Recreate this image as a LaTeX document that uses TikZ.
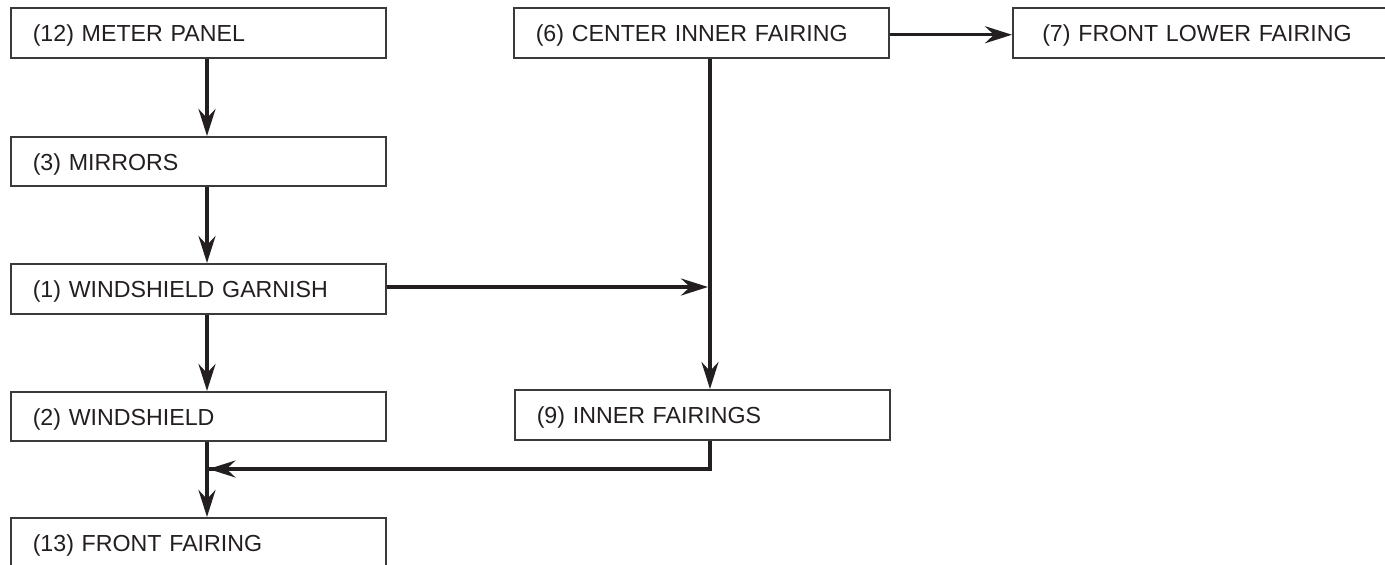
\documentclass[tikz,border=0pt]{standalone}
\usepackage{fontspec}
\setmainfont{Liberation Sans}
\usetikzlibrary{arrows.meta,calc}
\definecolor{ink}{HTML}{231F20}
\definecolor{frame}{HTML}{3A3A3A}
\tikzset{
  stepbox/.style={draw=frame, line width=1.5pt, rectangle, anchor=north west,
    minimum width=375pt, minimum height=50pt, inner xsep=22pt, inner ysep=0pt,
    text width=331pt, align=left, text height=18pt, text depth=0pt,
    font=\fontsize{23.2pt}{25pt}\selectfont, text=ink},
  arr/.style={draw=ink, line width=3.2pt,
    -{Stealth[length=27pt,width=17pt,inset=9pt]}},
  link/.style={draw=ink, line width=3.2pt},
}
\begin{document}
\begin{tikzpicture}[x=1pt,y=-1pt]
\useasboundingbox (0,0) rectangle (1385,565);
\clip (0,0) rectangle (1385,565);
\fill[white] (0,0) rectangle (1385,565);
% left column
\node[stepbox] (m12) at (10,7) {(12) METER PANEL};
\node[stepbox, minimum height=49pt] (m3) at (10,136) {(3) MIRRORS};
\node[stepbox] (m1) at (10,263) {(1) WINDSHIELD GARNISH};
\node[stepbox, minimum height=49pt] (m2) at (10,391) {(2) WINDSHIELD};
\node[stepbox, minimum height=60pt, text height=8pt] (m13) at (10,517) {(13) FRONT FAIRING};
% middle / right
\node[stepbox] (m6) at (513,7) {(6) CENTER INNER FAIRING};
\node[stepbox, minimum width=390pt] (m7) at (1012,7) {(7) FRONT LOWER FAIRING};
\node[stepbox] (m9) at (514,389) {(9) INNER FAIRINGS};
% guide coordinates
\coordinate (colA) at (207,0);
\coordinate (colB) at (710,0);
\coordinate (j1) at (708,287);
\coordinate (j2) at (710,469);
\coordinate (j3) at (208.5,469);
% connectors
\draw[arr] (m12.south -| colA) -- (m3.north -| colA);
\draw[arr] (m3.south -| colA) -- (m1.north -| colA);
\draw[arr] (m1.south -| colA) -- (m2.north -| colA);
\draw[arr] (m2.south -| colA) -- (m13.north -| colA);
\draw[arr] ([yshift=-2pt]m6.east) -- ([yshift=-2pt]m7.west);
\draw[arr] (m6.south -| colB) -- (m9.north -| colB);
\draw[arr] (m1.east |- j1) -- (j1);
\draw[link, line join=miter] (m9.south -| colB) -- (j2) -- (j3);
\draw[arr] (j2) -- (j3);
\end{tikzpicture}
\end{document}
